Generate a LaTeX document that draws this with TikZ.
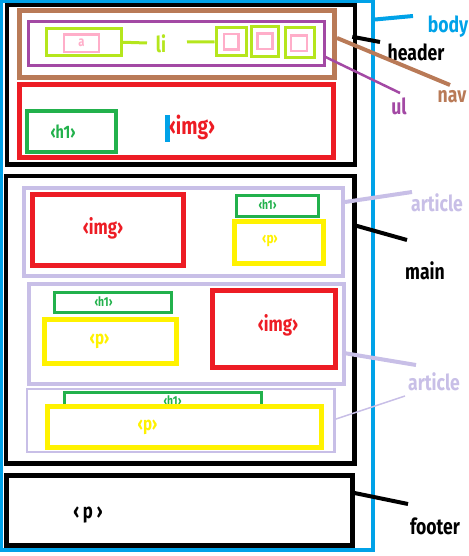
\documentclass[tikz,border=0pt]{standalone}
\usepackage{fontspec}
\setmainfont{Fira Sans}[FakeStretch=0.8]
\usetikzlibrary{calc}

\begin{document}
\begin{tikzpicture}[
    x=1pt, y=-1pt,
    box/.style={draw, rectangle, inner sep=0pt},
    tag/.style={inner sep=0pt, font=\bfseries\fontsize{21}{24}\selectfont},
    smalltag/.style={inner sep=0pt, font=\bfseries\fontsize{13}{15}\selectfont},
    elname/.style={inner sep=0pt, font=\bfseries\fontsize{22}{26}\selectfont},
    pointer/.style={line width=4pt}
]

% Colors
\definecolor{paintblue}{RGB}{0, 162, 232} % body
\definecolor{navbrown}{RGB}{185, 122, 87} % nav
\definecolor{ulpurple}{RGB}{163, 73, 164} % ul
\definecolor{lilime}{RGB}{181, 230, 29} % li
\definecolor{apink}{RGB}{255, 174, 201} % a
\definecolor{imgred}{RGB}{237, 28, 36} % img
\definecolor{hgreen}{RGB}{34, 177, 76} % h1
\definecolor{pyellow}{RGB}{255, 242, 0} % p
\definecolor{lavender}{RGB}{200, 191, 231} % article

\useasboundingbox (0,0) rectangle (468,556);

% Nodes
\node (body) [box, draw=paintblue, line width=4pt, minimum width=372pt, minimum height=548pt] at (187,275.5) {};

\node (header) [box, draw=black, line width=4.5pt, minimum width=348pt, minimum height=159.5pt] at (181,84.75) {};
\node (nav) [box, draw=navbrown, line width=5pt, minimum width=315pt, minimum height=67pt] at (177,44) {};
\node (ul) [box, draw=ulpurple, line width=3pt, minimum width=295.5pt, minimum height=44pt] at (176.25,44) {};

\node (li_a) [box, draw=lilime, line width=3pt, minimum width=75pt, minimum height=27.5pt] at (84,42.25) {};
\node (a) [box, draw=apink, line width=2.5pt, minimum width=35pt, minimum height=17.5pt, text=apink, font=\bfseries\fontsize{14}{16}\selectfont] at (81.5,43.25) {a};
\node (li_txt) [elname, text=lilime] at (161,44) {li};
\node (li_b) [box, draw=lilime, line width=3pt, minimum width=30.5pt, minimum height=27.5pt] at (231.25,41.75) {};
\node (a_b) [box, draw=apink, line width=2.5pt, minimum width=14.5pt, minimum height=15.5pt] at (231.25,41.75) {};
\node (li_c) [box, draw=lilime, line width=3pt, minimum width=26.5pt, minimum height=30pt] at (264.75,42) {};
\node (a_c) [box, draw=apink, line width=2.5pt, minimum width=15pt, minimum height=15.5pt] at (265,41.25) {};
\node (li_d) [box, draw=lilime, line width=3pt, minimum width=29pt, minimum height=30pt] at (299.5,43) {};
\node (a_d) [box, draw=apink, line width=2.5pt, minimum width=16pt, minimum height=15.5pt] at (299,43.25) {};

\node (head_img) [box, draw=imgred, line width=5pt, minimum width=314pt, minimum height=72.5pt] at (176,121.25) {};
\node (head_h1) [box, draw=hgreen, line width=4pt, minimum width=89pt, minimum height=41pt] at (71,132) {};
\node (head_h1_txt) [tag, text=hgreen, font=\bfseries\fontsize{18}{20}\selectfont] at (63,132) {‹h1›};
\node (cursor) [rectangle, fill=paintblue, inner sep=0pt, minimum width=5pt, minimum height=27pt] at (167.5,128.5) {};
\node (head_img_txt) [tag, text=imgred, font=\bfseries\fontsize{24}{28}\selectfont] at (192,127) {‹img›};

\node (main) [box, draw=black, line width=4.5pt, minimum width=348.5pt, minimum height=287.5pt] at (180.25,319.75) {};

\node (art_i) [box, draw=lavender, line width=4pt, minimum width=319pt, minimum height=87.5pt] at (183.5,231.75) {};
\node (img_i) [box, draw=imgred, line width=5pt, minimum width=151pt, minimum height=71pt] at (107.5,229.5) {};
\node (img_i_txt) [tag, text=imgred] at (103,228) {‹img›};
\node (h1_i) [box, draw=hgreen, line width=3pt, minimum width=82pt, minimum height=21pt] at (277.5,205.5) {};
\node (h1_i_txt) [smalltag, text=hgreen] at (267.5,205) {‹h1›};
\node (p_i) [box, draw=pyellow, line width=5pt, minimum width=89pt, minimum height=42pt] at (278.5,242) {};
\node (p_i_txt) [smalltag, text=pyellow, font=\bfseries\fontsize{15}{17}\selectfont] at (270,241) {‹p›};

\node (art_ii) [box, draw=lavender, line width=4.5pt, minimum width=315pt, minimum height=100pt] at (186.5,334) {};
\node (h1_ii) [box, draw=hgreen, line width=3pt, minimum width=117pt, minimum height=20pt] at (113,302.5) {};
\node (h1_ii_txt) [smalltag, text=hgreen] at (103.5,302) {‹h1›};
\node (p_ii) [box, draw=pyellow, line width=5pt, minimum width=131.5pt, minimum height=44pt] at (110.25,341.5) {};
\node (p_ii_txt) [tag, text=pyellow, font=\bfseries\fontsize{19}{22}\selectfont] at (99.5,341) {‹p›};
\node (img_ii) [box, draw=imgred, line width=5pt, minimum width=123.5pt, minimum height=77pt] at (273.75,329) {};
\node (img_ii_txt) [tag, text=imgred] at (278,325) {‹img›};

\node (art_iii) [box, draw=lavender, line width=2.5pt, minimum width=307.5pt, minimum height=63pt] at (180.75,420.5) {};
\node (h1_iii) [box, draw=hgreen, line width=3pt, minimum width=197pt, minimum height=14pt] at (163,399.5) {};
\node (h1_iii_txt) [smalltag, text=hgreen] at (172.5,401) {‹h1›};
\node (p_iii) [box, draw=pyellow, line width=5pt, minimum width=274pt, minimum height=41pt] at (184,426.5) {};
\node (p_iii_txt) [tag, text=pyellow, font=\bfseries\fontsize{19}{22}\selectfont] at (147.5,427) {‹p›};

\node (footer) [box, draw=black, line width=5pt, minimum width=346pt, minimum height=69.5pt] at (179,510.25) {};
\node (footer_txt) [tag] at (88,515) {‹\,p\,›};

% Labels
\node (body_txt) [elname, text=paintblue] at (448,27) {body};
\node (header_txt) [elname] at (416,52) {header};
\node (nav_txt) [elname, text=navbrown] at (452,97) {nav};
\node (ul_txt) [elname, text=ulpurple] at (399,106) {ul};
\node (art_i_txt) [elname, text=lavender] at (437,203) {article};
\node (main_txt) [elname] at (425,271) {main};
\node (art_ii_txt) [elname, text=lavender] at (434,382) {article};
\node (footer_txt_r) [elname] at (435,526) {footer};

% Pointer ends
\coordinate (li_l) at (147,43);
\coordinate (li_r) at (187,42);
\coordinate (body_end) at (413,16);
\coordinate (header_end) at (380,42);
\coordinate (nav_end) at (450,85);
\coordinate (ul_end) at (400,93);
\coordinate (art_i_end) at (412,192);
\coordinate (main_end) at (407,240);
\coordinate (art_ii_end) at (416,365);
\coordinate (art_iii_end) at (405,396);
\coordinate (footer_end) at (408,504);

% Edges
\draw[line width=3pt, lilime] (li_a.east) -- (li_l);
\draw[line width=3pt, lilime] (li_r) -- (li_b.west);

\draw[pointer, paintblue] ([yshift=-20pt]body.north east) -- (body_end);
\draw[pointer, black] ([xshift=-5pt, yshift=-34pt]header.north east) -- (header_end);
\draw[pointer, navbrown] ([yshift=-30pt]nav.north east) -- (nav_end);
\draw[pointer, ulpurple, line width=2.5pt] ([yshift=-36.5pt]ul.north east) -- (ul_end);
\draw[pointer, lavender] ([yshift=-16pt]art_i.north east) -- (art_i_end);
\draw[pointer, black] ([xshift=-4pt, yshift=-51pt]main.north east) -- (main_end);
\draw[pointer, lavender] ([xshift=-4pt, yshift=-71pt]art_ii.north east) -- (art_ii_end);
\draw[pointer, lavender, line width=1.5pt] ([xshift=-2pt, yshift=-32pt]art_iii.north east) -- (art_iii_end);
\draw[pointer, black] ([yshift=-20pt]footer.north east) -- (footer_end);

\end{tikzpicture}
\end{document}
